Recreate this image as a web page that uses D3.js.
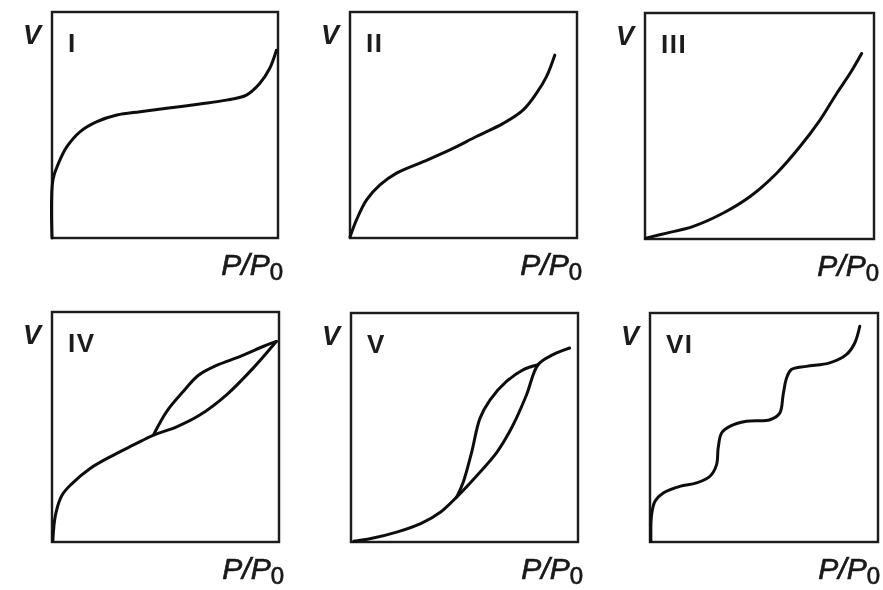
<!DOCTYPE html>
<html>
<head>
<meta charset="utf-8">
<script src="https://cdn.jsdelivr.net/npm/d3@7"></script>
<style>
  body { margin: 0; background: #fff; }
  svg text { font-family: "Liberation Sans", Arial, sans-serif; fill: #1a1a1a; }
</style>
</head>
<body>
<div id="chart"></div>
<script>
// isotherm types, values as fraction of the frame (x = P/P0, y = V)
var labels = ["I", "II", "III", "IV", "V", "VI"];

var typeI = [[0,0],[0.004,0.257],[0.029,0.331],[0.066,0.404],[0.125,0.471],[0.199,0.515],[0.287,0.544],
  [0.39,0.559],[0.507,0.574],[0.654,0.593],[0.772,0.610],[0.860,0.632],[0.919,0.684],[0.963,0.75],[0.993,0.831]];

var typeII = [[0,0.004],[0.029,0.081],[0.073,0.169],[0.132,0.235],[0.205,0.287],[0.323,0.338],[0.44,0.390],
  [0.557,0.449],[0.675,0.507],[0.762,0.566],[0.821,0.640],[0.865,0.713],[0.902,0.809]];

var typeIII = [[0.004,0.004],[0.095,0.026],[0.211,0.056],[0.342,0.115],[0.459,0.188],[0.575,0.291],
  [0.677,0.409],[0.764,0.526],[0.837,0.644],[0.895,0.732],[0.946,0.821]];

var typeIV_ads = [[0.004,0.007],[0.015,0.116],[0.044,0.203],[0.088,0.254],[0.168,0.320],[0.271,0.378],
  [0.359,0.422],[0.447,0.465],[0.549,0.501],[0.651,0.552],[0.769,0.640],[0.886,0.756],[0.988,0.872]];
var typeIV_des = [[0.447,0.465],[0.505,0.567],[0.578,0.654],[0.645,0.725],[0.725,0.768],[0.827,0.806],
  [0.930,0.850],[0.988,0.872]];

var typeV_ads = [[0.012,0.003],[0.088,0.015],[0.205,0.044],[0.307,0.080],[0.395,0.131],[0.466,0.197],
  [0.556,0.292],[0.644,0.394],[0.714,0.511],[0.773,0.642],[0.824,0.774],[0.890,0.818],[0.963,0.847]];
var typeV_des = [[0.466,0.197],[0.495,0.263],[0.532,0.394],[0.568,0.540],[0.612,0.620],[0.685,0.701],
  [0.758,0.752],[0.824,0.774]];

var typeVI = [[0.004,0.003],[0.007,0.119],[0.022,0.178],[0.058,0.214],[0.131,0.243],[0.204,0.258],
  [0.263,0.287],[0.292,0.338],[0.299,0.410],[0.314,0.476],[0.350,0.505],[0.423,0.527],[0.526,0.534],
  [0.569,0.563],[0.584,0.643],[0.599,0.716],[0.620,0.753],[0.686,0.767],[0.788,0.782],[0.861,0.818],
  [0.898,0.869],[0.920,0.942]];

var series = [[typeI], [typeII], [typeIII], [typeIV_ads, typeIV_des], [typeV_ads, typeV_des], [typeVI]];

// frame of each panel in page pixels
var frames = [
  {x0: 52,  x1: 278, y0: 12,  y1: 238},
  {x0: 350, x1: 577, y0: 12,  y1: 238},
  {x0: 645, x1: 874, y0: 13,  y1: 239},
  {x0: 52,  x1: 279, y0: 312, y1: 542},
  {x0: 351, x1: 578, y0: 313, y1: 542},
  {x0: 650, x1: 878, y0: 313, y1: 542}
];

var svg = d3.select("#chart").append("svg")
    .attr("width", 883)
    .attr("height", 590);

// the scan is a bit soft, so blur a touch
svg.append("defs").append("filter")
    .attr("id", "soft")
    .append("feGaussianBlur")
    .attr("stdDeviation", 0.6);

var root = svg.append("g").attr("filter", "url(#soft)");

labels.forEach(function(lab, i) {
    var f = frames[i];
    var xScale = d3.scaleLinear().domain([0, 1]).range([f.x0, f.x1]);
    var yScale = d3.scaleLinear().domain([0, 1]).range([f.y1, f.y0]);

    var line = d3.line()
        .x(function(d) { return xScale(d[0]); })
        .y(function(d) { return yScale(d[1]); })
        .curve(d3.curveCatmullRom.alpha(0.5));

    var g = root.append("g").attr("class", "panel");

    g.append("rect")
        .attr("x", xScale(0))
        .attr("y", yScale(1))
        .attr("width", xScale(1) - xScale(0))
        .attr("height", yScale(0) - yScale(1))
        .attr("fill", "none")
        .attr("stroke", "#1a1a1a")
        .attr("stroke-width", 2.4);

    series[i].forEach(function(s) {
        g.append("path")
            .datum(s)
            .attr("fill", "none")
            .attr("stroke", "#111")
            .attr("stroke-width", 3)
            .attr("stroke-linecap", "round")
            .attr("d", line);
    });

    // y axis name
    g.append("text")
        .attr("x", xScale(0) - 11)
        .attr("y", yScale(1) + 32)
        .attr("text-anchor", "end")
        .attr("font-size", 27)
        .attr("font-weight", "bold")
        .attr("font-style", "italic")
        .text("V");

    // isotherm type
    g.append("text")
        .attr("x", xScale(0) + 16)
        .attr("y", yScale(1) + 40)
        .attr("font-size", 26)
        .attr("font-weight", "bold")
        .attr("letter-spacing", 1.5)
        .text(lab);

    // x axis name
    var xt = g.append("text")
        .attr("x", Math.min(xScale(1) + 5, 880))
        .attr("y", yScale(0) + 37)
        .attr("text-anchor", "end")
        .attr("font-size", 30)
        .attr("font-style", "italic")
        .attr("stroke", "#1a1a1a")
        .attr("stroke-width", 0.7);
    xt.append("tspan").text("P/P");
    xt.append("tspan")
        .attr("font-size", 24)
        .attr("font-style", "normal")
        .attr("dy", 5)
        .text("0");
});
</script>
</body>
</html>
